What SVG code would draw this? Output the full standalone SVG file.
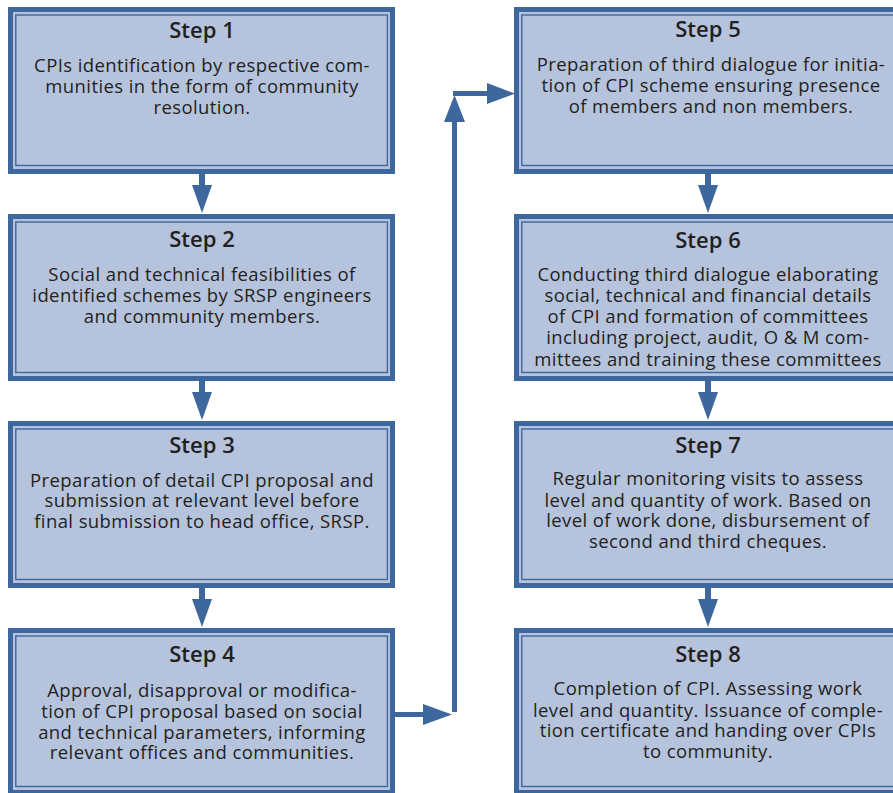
<svg xmlns="http://www.w3.org/2000/svg" width="893" height="793" viewBox="0 0 893 793">
<style>
.outer{fill:#b5c3dc;stroke:#3e689d;stroke-width:5}
.inner{fill:none;stroke:#3e689d;stroke-width:1.4}
.title{font-family:"Open Sans","Noto Sans",sans-serif;font-size:22px;font-weight:600;fill:#231f20;text-anchor:middle}
.body{font-family:"Open Sans","Noto Sans",sans-serif;font-size:18.5px;letter-spacing:0.4px;fill:#231f20;text-anchor:middle}
.arr{fill:#3e689d}
</style>
<rect width="893" height="793" fill="#ffffff"/>
<g id="connectors" class="arr">
  <rect x="199" y="174" width="6" height="12"/><polygon points="192,185 212,185 202,213"/>
  <rect x="199" y="381" width="6" height="12"/><polygon points="192,392 212,392 202,420"/>
  <rect x="199" y="588" width="6" height="12"/><polygon points="192,599 212,599 202,627"/>
  <rect x="705" y="174" width="6" height="12"/><polygon points="698,185 718,185 708,213"/>
  <rect x="705" y="381" width="6" height="12"/><polygon points="698,392 718,392 708,420"/>
  <rect x="705" y="588" width="6" height="12"/><polygon points="698,599 718,599 708,627"/>
  <rect x="395" y="712" width="29" height="5"/><polygon points="423,704 452,714.5 423,725"/>
  <rect x="452" y="121" width="5" height="591"/><polygon points="444,122 454.5,95 465,122"/>
  <rect x="453" y="91" width="35" height="5"/><polygon points="487,83 515,93.5 487,104"/>
</g>
<g id="step1">
  <rect class="outer" x="10.5" y="9.5" width="382" height="162"/>
  <rect class="inner" x="15.8" y="15" width="371.6" height="150.5"/>
  <text class="title" x="202" y="38">Step 1</text>
  <text class="body" x="202" y="72">CPIs identification by respective com-</text>
  <text class="body" x="202" y="93">munities in the form of community</text>
  <text class="body" x="202" y="114">resolution.</text>
</g>
<g id="step2">
  <rect class="outer" x="10.5" y="216.5" width="382" height="162"/>
  <rect class="inner" x="15.8" y="222" width="371.6" height="150.5"/>
  <text class="title" x="202" y="247">Step 2</text>
  <text class="body" x="202" y="281">Social and technical feasibilities of</text>
  <text class="body" x="202" y="302">identified schemes by SRSP engineers</text>
  <text class="body" x="202" y="323">and community members.</text>
</g>
<g id="step3">
  <rect class="outer" x="10.5" y="423.5" width="382" height="162"/>
  <rect class="inner" x="15.8" y="429" width="371.6" height="150.5"/>
  <text class="title" x="202" y="453">Step 3</text>
  <text class="body" x="202" y="487">Preparation of detail CPI proposal and</text>
  <text class="body" x="202" y="507">submission at relevant level before</text>
  <text class="body" x="202" y="528">final submission to head office, SRSP.</text>
</g>
<g id="step4">
  <rect class="outer" x="10.5" y="630.5" width="382" height="162"/>
  <rect class="inner" x="15.8" y="636" width="371.6" height="150.5"/>
  <text class="title" x="202" y="662">Step 4</text>
  <text class="body" x="202" y="697">Approval, disapproval or modifica-</text>
  <text class="body" x="202" y="718">tion of CPI proposal based on social</text>
  <text class="body" x="202" y="739">and technical parameters, informing</text>
  <text class="body" x="202" y="759">relevant offices and communities.</text>
</g>
<g id="step5">
  <rect class="outer" x="516.5" y="9.5" width="384" height="162"/>
  <rect class="inner" x="521.8" y="15" width="373.6" height="150.5"/>
  <text class="title" x="708" y="37">Step 5</text>
  <text class="body" x="711" y="71">Preparation of third dialogue for initia-</text>
  <text class="body" x="711" y="92">tion of CPI scheme ensuring presence</text>
  <text class="body" x="711" y="113">of members and non members.</text>
</g>
<g id="step6">
  <rect class="outer" x="516.5" y="216.5" width="384" height="162"/>
  <rect class="inner" x="521.8" y="222" width="373.6" height="150.5"/>
  <text class="title" x="708" y="248">Step 6</text>
  <text class="body" x="708" y="281">Conducting third dialogue elaborating</text>
  <text class="body" x="708" y="302">social, technical and financial details</text>
  <text class="body" x="708" y="323">of CPI and formation of committees</text>
  <text class="body" x="708" y="344">including project, audit, O &amp; M com-</text>
  <text class="body" x="708" y="366">mittees and training these committees</text>
</g>
<g id="step7">
  <rect class="outer" x="516.5" y="423.5" width="384" height="162"/>
  <rect class="inner" x="521.8" y="429" width="373.6" height="150.5"/>
  <text class="title" x="708" y="453">Step 7</text>
  <text class="body" x="708" y="485">Regular monitoring visits to assess</text>
  <text class="body" x="708" y="507">level and quantity of work. Based on</text>
  <text class="body" x="708" y="527">level of work done, disbursement of</text>
  <text class="body" x="708" y="548">second and third cheques.</text>
</g>
<g id="step8">
  <rect class="outer" x="516.5" y="630.5" width="384" height="162"/>
  <rect class="inner" x="521.8" y="636" width="373.6" height="150.5"/>
  <text class="title" x="708" y="662">Step 8</text>
  <text class="body" x="708" y="695">Completion of CPI. Assessing work</text>
  <text class="body" x="708" y="717">level and quantity. Issuance of comple-</text>
  <text class="body" x="708" y="737">tion certificate and handing over CPIs</text>
  <text class="body" x="708" y="758">to community.</text>
</g>
</svg>
